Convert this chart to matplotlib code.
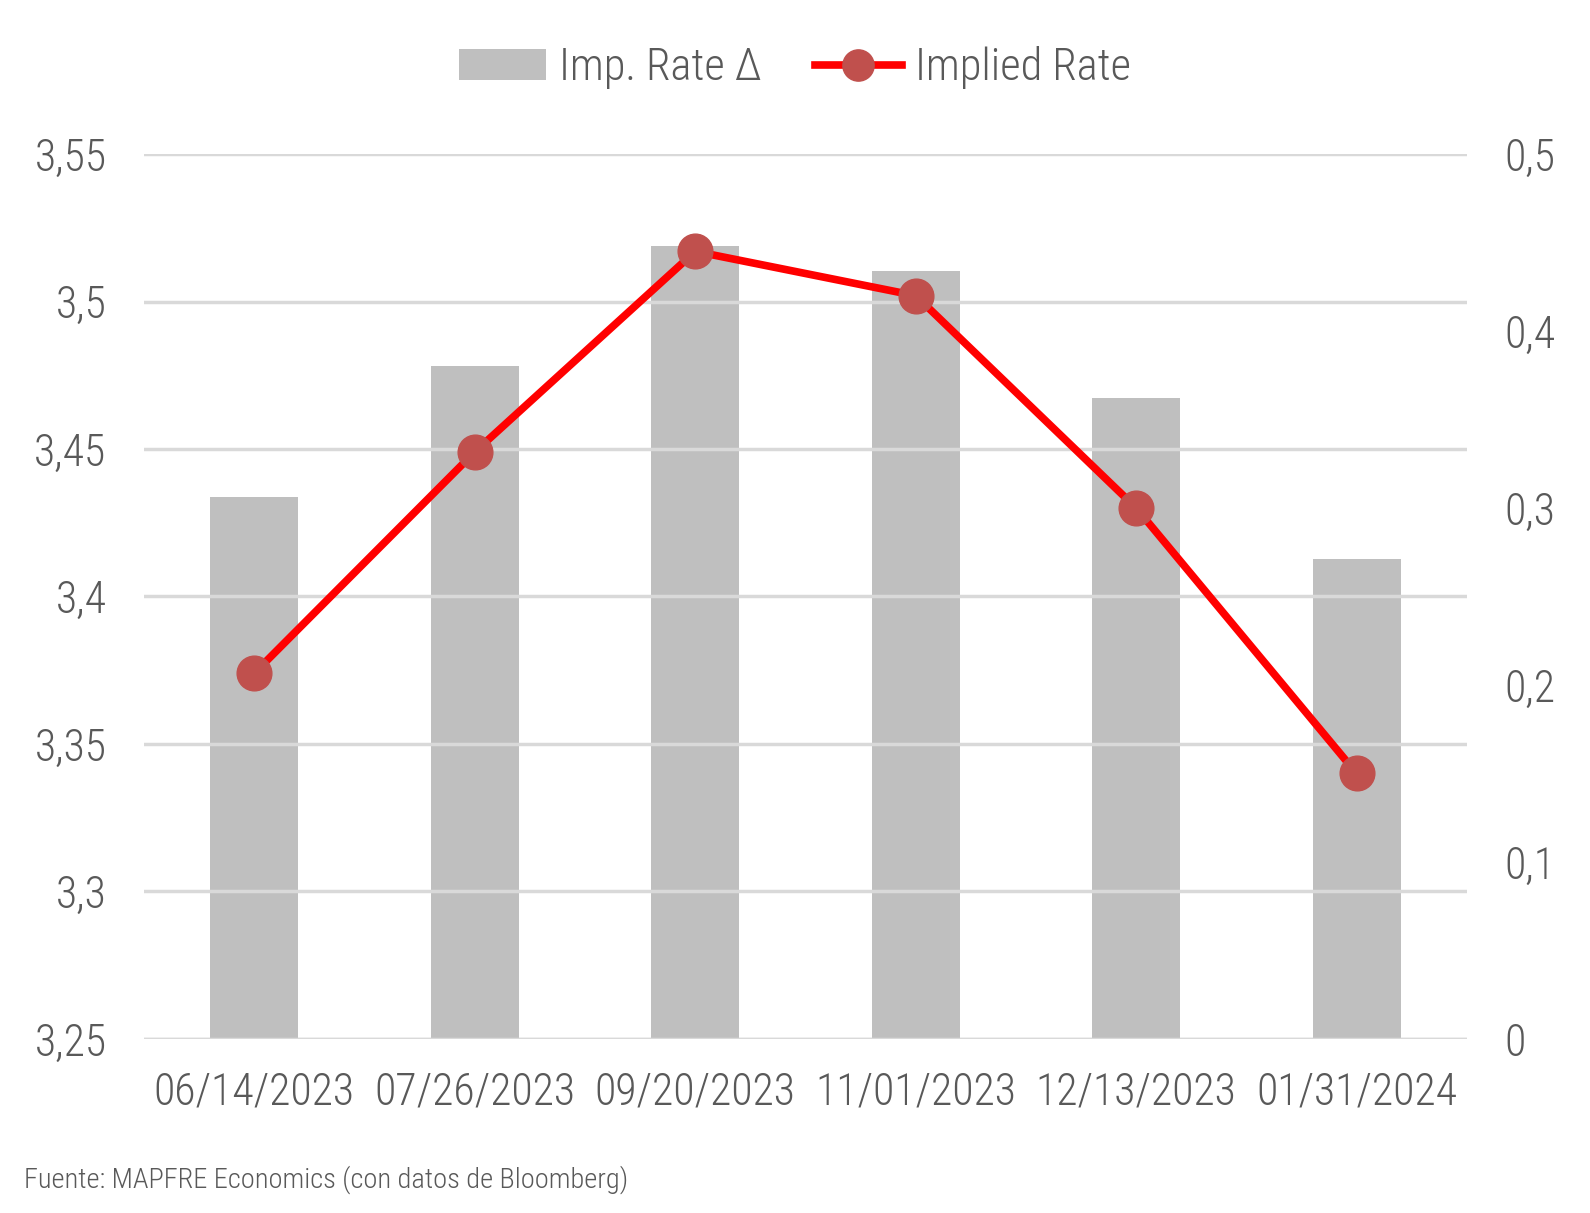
import numpy as np
import matplotlib
matplotlib.use('Agg')
import matplotlib.pyplot as plt
from matplotlib.ticker import FuncFormatter

dates = ['06/14/2023', '07/26/2023', '09/20/2023', '11/01/2023', '12/13/2023', '01/31/2024']
imp_rate_delta = [0.306, 0.380, 0.448, 0.434, 0.362, 0.271]
implied_rate = [3.374, 3.449, 3.517, 3.502, 3.430, 3.340]

plt.rcParams['font.family'] = ['Roboto Condensed', 'DejaVu Sans']
plt.rcParams['font.weight'] = 'light'
txt = '#595959'

fig = plt.figure(figsize=(15.9, 12.13), dpi=100)
ax = fig.add_axes([0.0906, 0.1435, 0.832, 0.7295])
ax2 = ax.twinx()

x = np.arange(len(dates))
ax2.bar(x, imp_rate_delta, width=0.4, color='#BFBFBF', label='Imp. Rate Δ', zorder=1)
ax2.set_ylim(0, 0.5)
ax2.set_yticks([0, 0.1, 0.2, 0.3, 0.4, 0.5])

ax.plot(x, implied_rate, color='#FF0000', lw=5.5, marker='o', markersize=25,
        markerfacecolor='#C0504D', markeredgecolor='#C0504D', label='Implied Rate', zorder=3)
ax.set_ylim(3.25, 3.55)
ax.set_yticks([3.25, 3.3, 3.35, 3.4, 3.45, 3.5, 3.55])
ax.set_xlim(-0.5, 5.5)
ax.set_xticks(x)
ax.set_xticklabels(dates)

# line on top of bars
ax.set_zorder(ax2.get_zorder() + 1)
ax.patch.set_visible(False)

fmt = FuncFormatter(lambda v, p: ('%g' % round(v, 2)).replace('.', ','))
ax.yaxis.set_major_formatter(fmt)
ax2.yaxis.set_major_formatter(fmt)

for a in (ax, ax2):
    for s in a.spines.values():
        s.set_visible(False)
    a.tick_params(length=0, labelsize=31.5, colors=txt)
ax.tick_params(axis='y', pad=27)
ax2.tick_params(axis='y', pad=27)
ax.tick_params(axis='x', pad=23)
ax.grid(axis='y', color='#D9D9D9', lw=2.5, zorder=0)
ax2.axhline(0, color='#D9D9D9', lw=2.5, zorder=0)

h1, l1 = ax2.get_legend_handles_labels()
h2, l2 = ax.get_legend_handles_labels()
fig.legend(h1 + h2, l1 + l2, loc='center', bbox_to_anchor=(0.5, 0.944), ncol=2,
           frameon=False, fontsize=32, labelcolor=txt, handlelength=1.95,
           handletextpad=0.3, columnspacing=1.2, markerscale=0.9)

fig.text(0.015, 0.021, 'Fuente: MAPFRE Economics (con datos de Bloomberg)', fontsize=20.5, color=txt)

fig.savefig('out.png', dpi=100)
